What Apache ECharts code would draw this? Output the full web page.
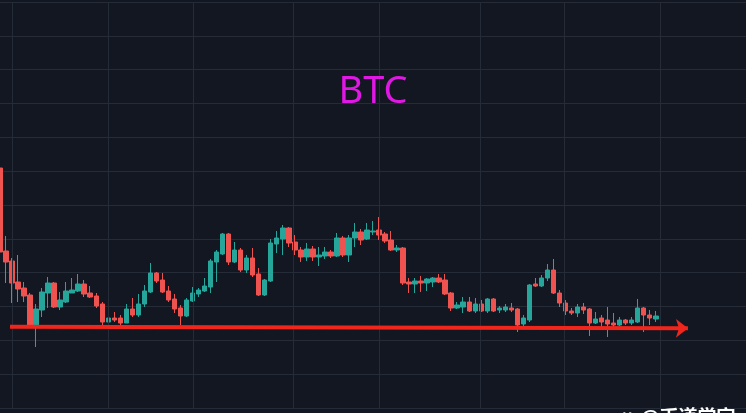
<!DOCTYPE html>
<html><head><meta charset="utf-8">
<script src="https://cdn.jsdelivr.net/npm/echarts@6/dist/echarts.min.js"></script>
<style>html,body{margin:0;padding:0;background:#131722;overflow:hidden}#c{width:746px;height:413px}</style>
</head><body><div id="c"></div>
<script>
const titleText = 'BTC';
const watermarkText = '〃 @币道学宇';

const openPrices = [
23200,20710,20410,19780,19600,19390,18490,18940,19450,19750,
19030,19180,19450,19510,19720,19450,19360,19120,18580,18700,
18700,18550,18970,18790,19120,19480,20050,19840,19510,19270,
19000,18760,19210,19420,19510,19630,20380,20620,21220,20380,
20740,20140,20500,20020,19390,19810,20920,21070,21400,20980,
20740,20530,20770,20530,20560,20680,20560,21100,20590,21100,
21280,21070,21280,21340,21220,21040,20740,20800,19780,19720,
19810,19750,19780,19900,19840,19450,19000,19030,19180,18910,
19120,18910,19270,18940,18940,19000,18970,18520,18640,19720,
19660,19900,20140,19450,19150,18910,18850,19030,18970,18550,
18700,18640,18550,18490,18640,18550,18580,19000,18790,18670];
const closePrices = [
20680,20380,19750,19570,19360,18490,18970,19480,19750,19030,
19240,19510,19540,19720,19420,19330,19060,18580,18700,18640,
18550,18970,18790,19120,19510,20050,19810,19480,19240,18970,
18760,19240,19450,19540,19660,20410,20680,21220,20380,20740,
20140,20500,19990,19390,19840,20950,21100,21400,20950,20740,
20530,20770,20530,20590,20680,20560,21100,20590,21100,21280,
21040,21340,21310,21190,21010,20740,20800,19750,19720,19810,
19750,19870,19900,19780,19420,19000,19090,19180,18910,19120,
18910,19270,18910,19000,19030,18940,18490,18700,19690,19660,
19900,20140,19450,19150,18910,18850,19030,18940,18550,18670,
18580,18520,18490,18640,18550,18640,19000,18790,18700,18760];
const lowPrices = [
20650,19750,19150,19180,19180,18430,17830,18730,19000,19000,
18940,19150,19450,19480,19330,19300,19000,18490,18400,18580,
18490,18550,18730,18730,19030,19450,19750,19450,19180,18850,
18490,18730,19180,19330,19480,19450,19780,20590,20290,20350,
20080,20050,19930,19360,19360,19780,20650,20590,20830,20590,
20380,20410,20410,20260,20470,20500,20530,20530,20380,20830,
20890,21040,21190,21040,20950,20710,20680,19690,19450,19450,
19480,19510,19630,19750,19390,18910,18970,18850,18880,18850,
18880,18850,18880,18850,18880,18880,18280,18430,18580,19630,
19630,19810,19420,19030,18790,18790,18730,18820,18160,18520,
18430,18130,18430,18460,18490,18490,18550,18280,18490,18580];
const highPrices = [
23260,21160,20500,20590,19780,19450,19120,19600,19930,19780,
19480,19780,19900,20020,19840,19660,19450,19180,19480,18880,
18790,19120,19300,19420,19690,20350,20080,20050,19660,19420,
19090,19300,19630,19600,19900,20470,20740,21250,21250,20980,
20800,20590,20800,20200,19870,21070,21310,21490,21430,21190,
20830,20950,20860,20830,20830,20740,21250,21160,21190,21550,
21370,21550,21610,21730,21280,21310,20890,20830,19900,19900,
19960,19900,19930,20020,20020,19480,19180,19330,19330,19300,
19240,19300,19300,19060,19120,19150,19000,18790,19720,19900,
19990,20320,20470,19540,19240,19000,19120,19150,19000,18880,
18790,19030,18850,18730,18670,18730,19270,19030,18940,18910];

const totalSlots = 125;               // candles + empty space on the right
const priceMin = 16000, priceMax = 28180;
const vGridPositions = [2, 17.95, 32.08, 48.7, 63, 79.8, 93.75, 109.7];
const hGridCount = 12;
const supportStart = [1.66, 18440];
const supportEnd = [114.35, 18390];

const categories = Array.from({length: totalSlots}, (_, i) => String(i + 1));
const candleData = categories.map((_, i) => i < openPrices.length
  ? [openPrices[i], closePrices[i], lowPrices[i], highPrices[i]] : '-');

const gridColor = '#262b38';
const chart = echarts.init(document.getElementById('c'), null, {renderer: 'canvas'});
chart.setOption({
  backgroundColor: '#131722',
  animation: false,
  grid: {left: 0, right: 0, top: 2, bottom: 5, containLabel: false},
  xAxis: [
    {type: 'category', data: categories, show: false, boundaryGap: false},
    {type: 'value', min: 0, max: totalSlots - 1, show: false}
  ],
  yAxis: [
    {type: 'value', min: priceMin, max: priceMax, show: false},
    {type: 'value', min: 0, max: hGridCount, interval: 1, position: 'right',
     axisLine: {show: false}, axisTick: {show: false}, axisLabel: {show: false},
     splitLine: {show: true, lineStyle: {color: gridColor, width: 1}}}
  ],
  graphic: [
    {type: 'text', z: 10, style: {text: titleText, x: 373, y: 92, textAlign: 'center', textVerticalAlign: 'middle',
      fill: '#e018e4', font: '38px "Noto Sans"'}},
    {type: 'text', z: 10, style: {text: watermarkText, x: 617, y: 407, textAlign: 'left', textVerticalAlign: 'top',
      fill: '#ffffff', font: 'bold 19px "Noto Sans CJK SC"'}}
  ],
  series: [
    {
      type: 'line', xAxisIndex: 1, yAxisIndex: 0, data: [], z: 1, silent: true,
      markLine: {silent: true, symbol: ['none', 'none'], label: {show: false},
        lineStyle: {color: gridColor, width: 1, type: 'solid'},
        data: vGridPositions.map(v => ({xAxis: v}))}
    },
    {
      type: 'candlestick', xAxisIndex: 0, yAxisIndex: 0, data: candleData, z: 3,
      barWidth: 5,
      itemStyle: {color: '#26a69a', color0: '#ef5350', borderColor: '#26a69a', borderColor0: '#ef5350', borderWidth: 1}
    },
    {
      type: 'line', xAxisIndex: 1, yAxisIndex: 0, data: [], z: 5, silent: true,
      markLine: {silent: true, symbol: ['none', 'arrow'], symbolSize: [14, 12], label: {show: false},
        lineStyle: {color: '#f0261c', width: 4, type: 'solid'},
        data: [[{coord: supportStart}, {coord: supportEnd}]]}
    }
  ]
});
</script></body></html>
